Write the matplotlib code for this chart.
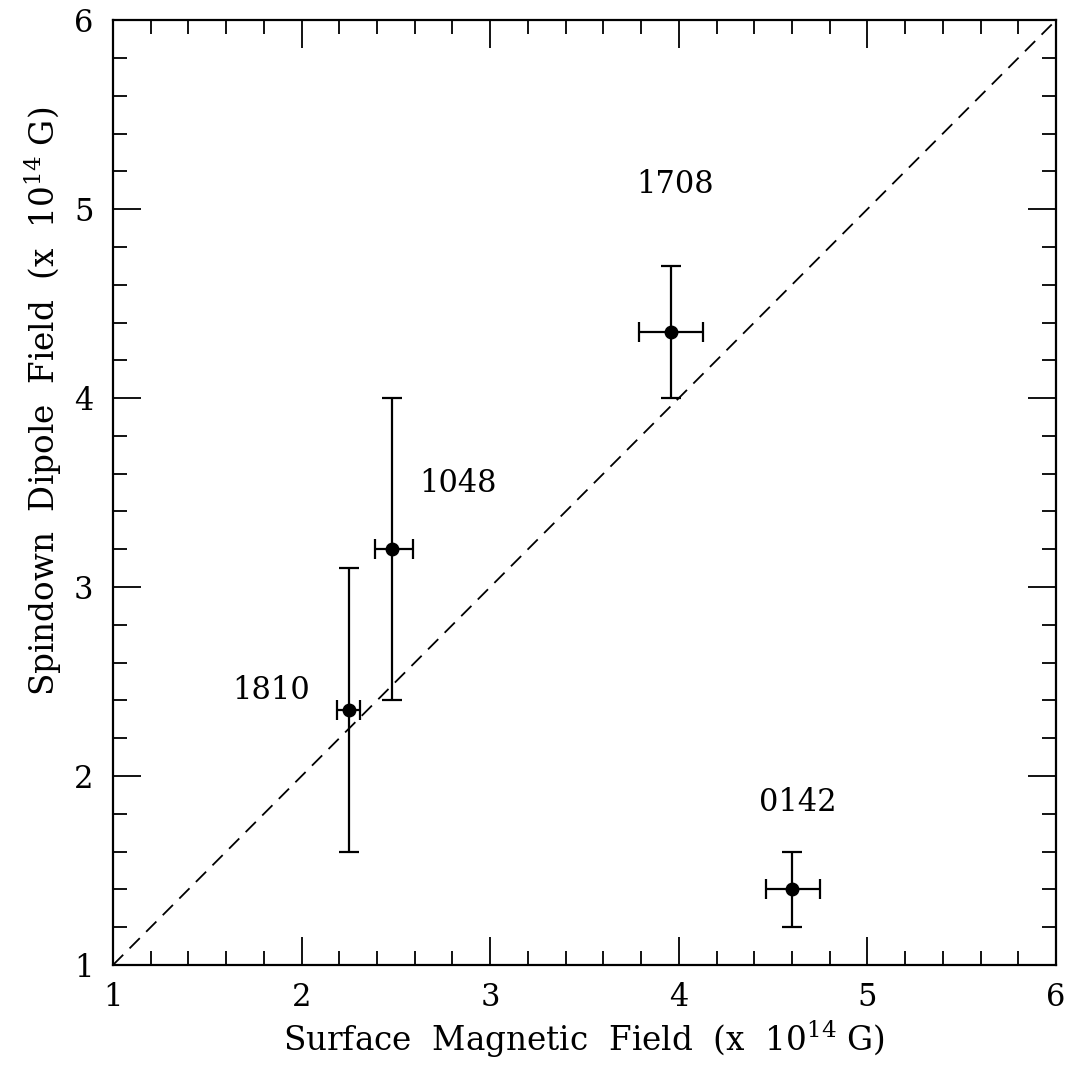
import matplotlib
matplotlib.use("Agg")
import matplotlib.pyplot as plt
from matplotlib.ticker import MultipleLocator

names = ["1708", "1048", "1810", "0142"]
b_surf = [3.96, 2.48, 2.25, 4.60]
b_surf_lo = [0.17, 0.09, 0.06, 0.14]
b_surf_hi = [0.17, 0.11, 0.06, 0.15]
b_spin = [4.35, 3.20, 2.35, 1.40]
b_spin_lo = [0.35, 0.80, 0.75, 0.20]
b_spin_hi = [0.35, 0.80, 0.75, 0.20]
label_x = [3.98, 2.83, 1.84, 4.63]
label_y = [5.13, 3.55, 2.45, 1.86]

plt.rcParams['font.family'] = ['DejaVu Serif']
plt.rcParams['mathtext.fontset'] = 'dejavuserif'

fig = plt.figure(figsize=(10.71, 10.67), dpi=100)
ax = fig.add_axes([0.1055, 0.0956, 0.8805, 0.8855])

ax.plot([1, 6], [1, 6], ls=(0, (8, 5)), color='black', lw=1.3)
ax.errorbar(b_surf, b_spin, xerr=[b_surf_lo, b_surf_hi], yerr=[b_spin_lo, b_spin_hi],
            fmt='o', color='black', ms=9, elinewidth=1.6, capsize=7, capthick=1.6)

for n, x, y in zip(names, label_x, label_y):
    ax.text(x, y, n, ha='center', va='center', fontsize=22)

ax.set_xlim(1, 6)
ax.set_ylim(1, 6)
ax.xaxis.set_major_locator(MultipleLocator(1))
ax.yaxis.set_major_locator(MultipleLocator(1))
ax.xaxis.set_minor_locator(MultipleLocator(0.2))
ax.yaxis.set_minor_locator(MultipleLocator(0.2))
ax.tick_params(which='both', direction='in', top=True, right=True, labelsize=22, width=1.3)
ax.tick_params(which='major', length=20)
ax.tick_params(axis='x', which='major', pad=12)
ax.tick_params(axis='y', which='major', pad=14)
ax.tick_params(which='minor', length=10)
for s in ax.spines.values():
    s.set_linewidth(1.6)

ax.set_xlabel(r"Surface  Magnetic  Field  (x  10$^{\mathregular{14}}$ G)", fontsize=23.5, va='center')
ax.set_ylabel(r"Spindown  Dipole  Field  (x  10$^{\mathregular{14}}$ G)", fontsize=23.5, va='center')
ax.xaxis.set_label_coords(0.5, -0.079)
ax.yaxis.set_label_coords(-0.074, 0.596)

fig.savefig("out.png", dpi=100)
